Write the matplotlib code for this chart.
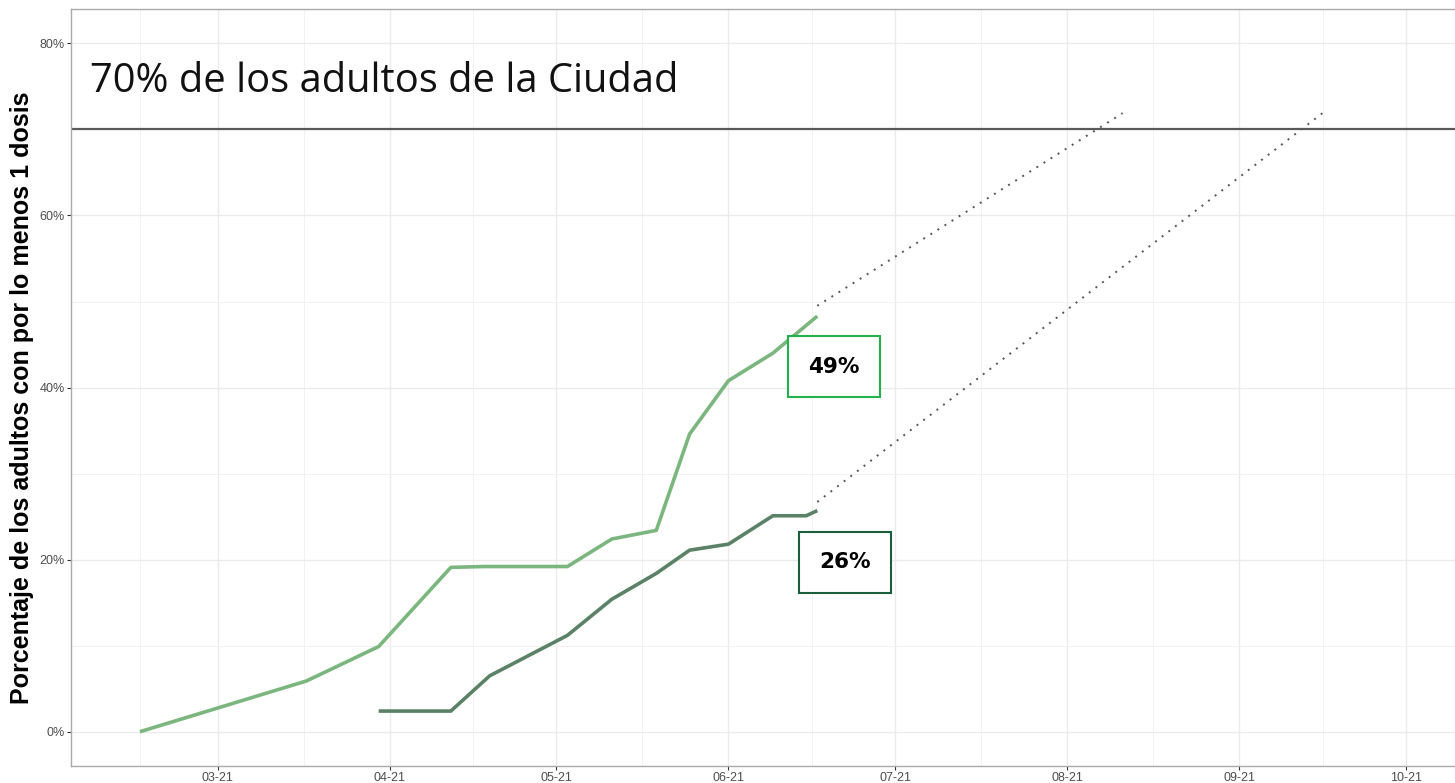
import numpy as np
import pandas as pd
import matplotlib
matplotlib.use("Agg")
import matplotlib.pyplot as plt
import matplotlib.dates as mdates
from matplotlib.ticker import FuncFormatter, MultipleLocator

# porcentaje de adultos con al menos 1 dosis
fechas_a = ["2021-02-15", "2021-03-17", "2021-03-30", "2021-04-12", "2021-04-18",
            "2021-05-03", "2021-05-11", "2021-05-19", "2021-05-25", "2021-06-01",
            "2021-06-09", "2021-06-17"]
valores_a = [0.0, 5.9, 9.9, 19.1, 19.2, 19.2, 22.4, 23.4, 34.6, 40.8, 44.0, 48.3]

fechas_b = ["2021-03-30", "2021-04-12", "2021-04-19", "2021-05-03", "2021-05-11",
            "2021-05-19", "2021-05-25", "2021-06-01", "2021-06-09", "2021-06-15",
            "2021-06-17"]
valores_b = [2.4, 2.4, 6.5, 11.2, 15.4, 18.4, 21.1, 21.8, 25.1, 25.1, 25.7]

# proyecciones punteadas
proy_a_fechas = ["2021-06-17", "2021-08-11"]
proy_a_valores = [49.5, 71.9]
proy_b_fechas = ["2021-06-17", "2021-09-16"]
proy_b_valores = [26.7, 71.9]

meta = 70
texto_meta = "70% de los adultos de la Ciudad"
etiqueta_a = "49%"
etiqueta_b = "26%"
ylabel = "Porcentaje de los adultos con por lo menos 1 dosis"

c_a = "#7bb67e"
c_b = "#5b8266"
c_box_a = "#22b14c"
c_box_b = "#1b5e3c"

fig = plt.figure(figsize=(14.55, 7.83), dpi=100)
ax = fig.add_axes([0.0488, 0.0221, 0.953, 0.9664])

ax.plot(pd.to_datetime(fechas_a), valores_a, color=c_a, lw=2.6, solid_capstyle="butt", zorder=3)
ax.plot(pd.to_datetime(fechas_b), valores_b, color=c_b, lw=2.6, solid_capstyle="butt", zorder=3)
ax.plot(pd.to_datetime(proy_a_fechas), proy_a_valores, color="#555555", lw=1.4, ls=(0, (1, 3.3)), zorder=2)
ax.plot(pd.to_datetime(proy_b_fechas), proy_b_valores, color="#555555", lw=1.4, ls=(0, (1, 3.3)), zorder=2)
ax.axhline(meta, color="#595959", lw=1.6, zorder=2)

ax.text(pd.Timestamp("2021-02-06"), 74.3, texto_meta, fontsize=28.7, family="Open Sans",
        color="#111111", va="baseline")

ax.text(pd.Timestamp("2021-06-20"), 42.4, etiqueta_a, fontsize=15.5, fontweight="bold",
        family="DejaVu Sans", ha="center", va="center", zorder=4,
        bbox=dict(boxstyle="square,pad=0.95", fc="white", ec=c_box_a, lw=1.5))
ax.text(pd.Timestamp("2021-06-22"), 19.7, etiqueta_b, fontsize=15.5, fontweight="bold",
        family="DejaVu Sans", ha="center", va="center", zorder=4,
        bbox=dict(boxstyle="square,pad=0.95", fc="white", ec=c_box_b, lw=1.5))

meses = pd.date_range("2021-02-01", "2021-11-01", freq="MS")
ax.set_xticks(meses[1:-1])
ax.xaxis.set_major_formatter(mdates.DateFormatter("%m-%y"))
medios = meses[:-1] + (meses[1:] - meses[:-1]) / 2
ax.set_xticks(medios, minor=True)

ax.set_xlim(pd.Timestamp("2021-02-02 14:00"), pd.Timestamp("2021-10-10 08:00"))
ax.set_ylim(-3.95, 84.0)

ax.yaxis.set_major_locator(MultipleLocator(20))
ax.yaxis.set_minor_locator(MultipleLocator(10))
ax.yaxis.set_major_formatter(FuncFormatter(lambda v, p: f"{v:.0f}%"))

ax.grid(which="major", color="#ebebeb", lw=1.0)
ax.grid(which="minor", color="#f2f2f2", lw=0.7)
ax.set_axisbelow(True)

ax.tick_params(which="major", length=3, color="#333333", labelsize=9, labelcolor="#4d4d4d", pad=1.5)
ax.tick_params(which="minor", length=0)
for lab in ax.get_xticklabels() + ax.get_yticklabels():
    lab.set_family("Liberation Sans")
for s in ax.spines.values():
    s.set_color("#aaaaaa")
    s.set_linewidth(1.0)

fig.text(22 / 1455, 1 - 398 / 783, ylabel, rotation=90, ha="center", va="center",
         fontsize=18, fontweight="bold", family="Liberation Sans")

fig.savefig("out.png", dpi=100)
